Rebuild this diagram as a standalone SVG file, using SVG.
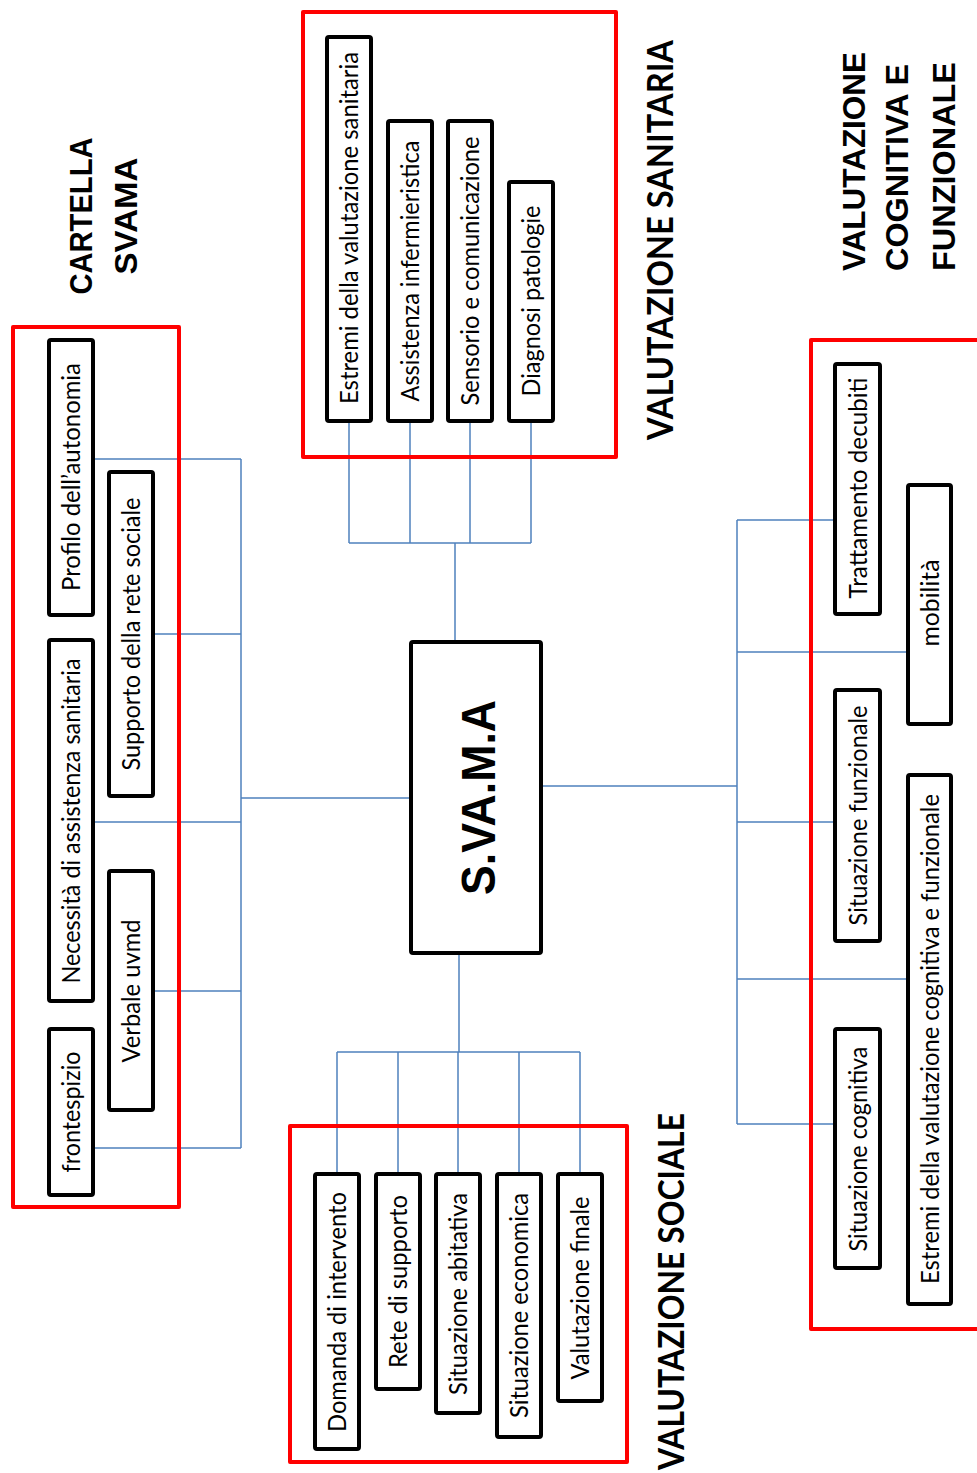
<svg xmlns="http://www.w3.org/2000/svg" width="977" height="1473" viewBox="0 0 977 1473">
<style>
.bg{fill:#ffffff}
.conn{stroke:#4F81BD;stroke-width:1.5;fill:none}
.frame{fill:none;stroke:#FF0000;stroke-width:4;stroke-linejoin:round}
.box{fill:#ffffff;stroke:#000000;stroke-width:4;stroke-linejoin:round}
.lbl{font-family:Lato,"Liberation Sans",sans-serif;font-size:25px;fill:#000;text-anchor:middle}
.ttl{font-family:Lato,"Liberation Sans",sans-serif;font-weight:bold;font-size:37px;fill:#000}
.ttl2{font-family:"Liberation Sans",Arial,sans-serif;font-weight:bold;font-size:31px;fill:#000}
.main{font-family:"Liberation Sans",Arial,sans-serif;font-weight:bold;font-size:48px;fill:#000;text-anchor:middle}
</style>
<rect class="bg" x="0" y="0" width="977" height="1473"/>

<g id="connectors">
  <path class="conn" d="M241,459 V1148 M95,459 H241 M155,634 H241 M95,822 H241 M155,991 H241 M95,1148 H241 M241,798 H411"/>
  <path class="conn" d="M349,423 V543 M410,423 V543 M470,423 V543 M531,423 V543 M349,543 H531 M455,543 V642"/>
  <path class="conn" d="M459,953 V1052 M337,1052 H580 M337,1052 V1172 M398,1052 V1172 M458,1052 V1172 M519,1052 V1172 M580,1052 V1172"/>
  <path class="conn" d="M737,520 V1124 M737,520 H833 M737,652 H906 M541,786 H737 M737,822 H833 M737,979 H906 M737,1124 H833"/>
</g>

<g id="group-cartella">
  <rect class="frame" x="13" y="327" width="166" height="880"/>
  <text class="ttl2" transform="translate(92,216) rotate(-90)" text-anchor="middle" textLength="157" lengthAdjust="spacingAndGlyphs">CARTELLA</text>
  <text class="ttl2" transform="translate(137,216) rotate(-90)" text-anchor="middle" textLength="117" lengthAdjust="spacingAndGlyphs">SVAMA</text>
</g>
<g id="group-sanitaria">
  <rect class="frame" x="303" y="12" width="313" height="445"/>
  <text class="ttl" transform="translate(673,240) rotate(-90)" text-anchor="middle" textLength="400" lengthAdjust="spacingAndGlyphs">VALUTAZIONE SANITARIA</text>
</g>
<g id="group-sociale">
  <rect class="frame" x="290" y="1126" width="337" height="336"/>
  <text class="ttl" transform="translate(684,1113) rotate(-90)" text-anchor="end" textLength="357" lengthAdjust="spacingAndGlyphs">VALUTAZIONE SOCIALE</text>
</g>
<g id="group-cognitiva">
  <rect class="frame" x="811" y="340" width="200" height="989"/>
  <text class="ttl2" transform="translate(865,271) rotate(-90)" textLength="219" lengthAdjust="spacingAndGlyphs">VALUTAZIONE</text>
  <text class="ttl2" transform="translate(908,271) rotate(-90)" textLength="207" lengthAdjust="spacingAndGlyphs">COGNITIVA E</text>
  <text class="ttl2" transform="translate(955,271) rotate(-90)" textLength="209" lengthAdjust="spacingAndGlyphs">FUNZIONALE</text>
</g>

<g id="svama">
  <rect class="box" x="411" y="642" width="130" height="311" rx="2"/>
  <text class="main" transform="translate(495,797.5) rotate(-90)" textLength="195" lengthAdjust="spacingAndGlyphs">S.VA.M.A</text>
</g>

<g id="profilo">
  <rect class="box" x="49" y="340" width="44" height="275" rx="2"/>
  <text class="lbl" transform="translate(71,477) rotate(-90)" y="9" textLength="228" lengthAdjust="spacingAndGlyphs">Profilo dell’autonomia</text>
</g>
<g id="supporto">
  <rect class="box" x="109" y="472" width="44" height="324" rx="2"/>
  <text class="lbl" transform="translate(131,634) rotate(-90)" y="9" textLength="273" lengthAdjust="spacingAndGlyphs">Supporto della rete sociale</text>
</g>
<g id="necessita">
  <rect class="box" x="49" y="640" width="44" height="361" rx="2"/>
  <text class="lbl" transform="translate(71,821) rotate(-90)" y="9" textLength="325" lengthAdjust="spacingAndGlyphs">Necessità di assistenza sanitaria</text>
</g>
<g id="verbale">
  <rect class="box" x="109" y="871" width="44" height="239" rx="2"/>
  <text class="lbl" transform="translate(131,991) rotate(-90)" y="9" textLength="143" lengthAdjust="spacingAndGlyphs">Verbale uvmd</text>
</g>
<g id="frontespizio">
  <rect class="box" x="49" y="1029" width="44" height="166" rx="2"/>
  <text class="lbl" transform="translate(71,1112) rotate(-90)" y="9" textLength="121" lengthAdjust="spacingAndGlyphs">frontespizio</text>
</g>

<g id="estremi-sanitaria">
  <rect class="box" x="327" y="37" width="44" height="384" rx="2"/>
  <text class="lbl" transform="translate(349,228) rotate(-90)" y="9" textLength="352" lengthAdjust="spacingAndGlyphs">Estremi della valutazione sanitaria</text>
</g>
<g id="assistenza">
  <rect class="box" x="388" y="121" width="44" height="300" rx="2"/>
  <text class="lbl" transform="translate(410,271) rotate(-90)" y="9" textLength="261" lengthAdjust="spacingAndGlyphs">Assistenza infermieristica</text>
</g>
<g id="sensorio">
  <rect class="box" x="448" y="121" width="44" height="300" rx="2"/>
  <text class="lbl" transform="translate(470,271) rotate(-90)" y="9" textLength="269" lengthAdjust="spacingAndGlyphs">Sensorio e comunicazione</text>
</g>
<g id="diagnosi">
  <rect class="box" x="509" y="182" width="44" height="239" rx="2"/>
  <text class="lbl" transform="translate(531,301) rotate(-90)" y="9" textLength="191" lengthAdjust="spacingAndGlyphs">Diagnosi patologie</text>
</g>

<g id="domanda">
  <rect class="box" x="315" y="1174" width="44" height="275" rx="2"/>
  <text class="lbl" transform="translate(337,1312) rotate(-90)" y="9" textLength="240" lengthAdjust="spacingAndGlyphs">Domanda di intervento</text>
</g>
<g id="rete">
  <rect class="box" x="376" y="1174" width="44" height="215" rx="2"/>
  <text class="lbl" transform="translate(398,1281.5) rotate(-90)" y="9" textLength="173" lengthAdjust="spacingAndGlyphs">Rete di supporto</text>
</g>
<g id="abitativa">
  <rect class="box" x="436" y="1174" width="44" height="239" rx="2"/>
  <text class="lbl" transform="translate(458,1294) rotate(-90)" y="9" textLength="202" lengthAdjust="spacingAndGlyphs">Situazione abitativa</text>
</g>
<g id="economica">
  <rect class="box" x="497" y="1174" width="44" height="263" rx="2"/>
  <text class="lbl" transform="translate(519,1305.5) rotate(-90)" y="9" textLength="225" lengthAdjust="spacingAndGlyphs">Situazione economica</text>
</g>
<g id="finale">
  <rect class="box" x="558" y="1174" width="44" height="227" rx="2"/>
  <text class="lbl" transform="translate(580,1288) rotate(-90)" y="9" textLength="183" lengthAdjust="spacingAndGlyphs">Valutazione finale</text>
</g>

<g id="decubiti">
  <rect class="box" x="835" y="364" width="45" height="250" rx="2"/>
  <text class="lbl" transform="translate(857.5,488) rotate(-90)" y="9" textLength="221" lengthAdjust="spacingAndGlyphs">Trattamento decubiti</text>
</g>
<g id="mobilita">
  <rect class="box" x="908" y="485" width="43" height="239" rx="2"/>
  <text class="lbl" transform="translate(929.5,603) rotate(-90)" y="9" textLength="87" lengthAdjust="spacingAndGlyphs">mobilità</text>
</g>
<g id="funzionale">
  <rect class="box" x="835" y="690" width="45" height="251" rx="2"/>
  <text class="lbl" transform="translate(857.5,815.5) rotate(-90)" y="9" textLength="220" lengthAdjust="spacingAndGlyphs">Situazione funzionale</text>
</g>
<g id="estremi-cognitiva">
  <rect class="box" x="908" y="775" width="43" height="529" rx="2"/>
  <text class="lbl" transform="translate(929.5,1039) rotate(-90)" y="9" textLength="490" lengthAdjust="spacingAndGlyphs">Estremi della valutazione cognitiva e funzionale</text>
</g>
<g id="cognitiva">
  <rect class="box" x="835" y="1029" width="45" height="239" rx="2"/>
  <text class="lbl" transform="translate(857.5,1149) rotate(-90)" y="9" textLength="205" lengthAdjust="spacingAndGlyphs">Situazione cognitiva</text>
</g>
</svg>
